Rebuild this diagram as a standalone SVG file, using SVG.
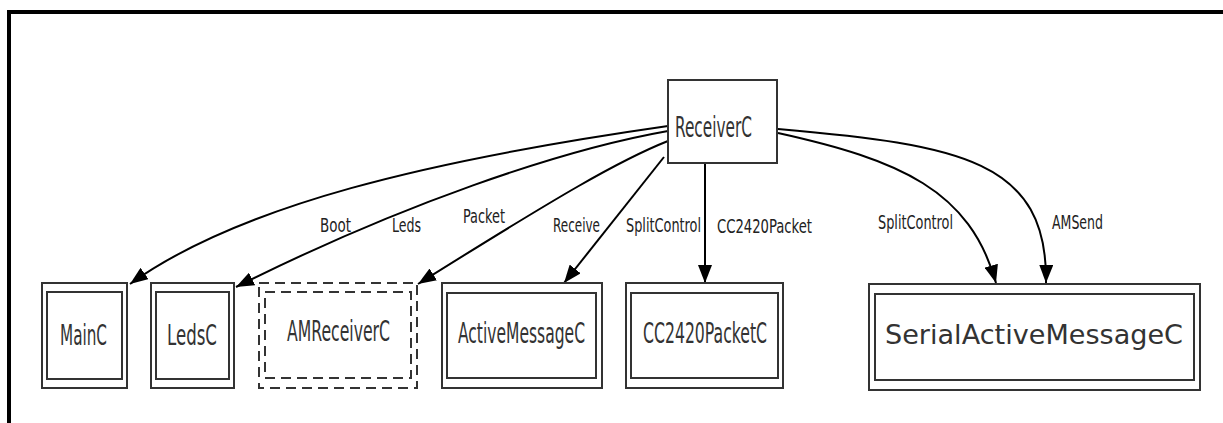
<svg xmlns="http://www.w3.org/2000/svg" width="1223" height="423" viewBox="0 0 1223 423">
<style>
.frame{stroke:#000;stroke-width:4;fill:none}
.box{fill:none;stroke:#333;stroke-width:2}
.dash{fill:none;stroke:#333;stroke-width:2;stroke-dasharray:10 6}
.edge{fill:none;stroke:#000;stroke-width:2}
.nt{font-family:"DejaVu Sans Condensed","DejaVu Sans",sans-serif;font-size:29px;fill:#333}
.lt{font-family:"DejaVu Sans Condensed","DejaVu Sans",sans-serif;font-size:19px;fill:#222}
</style>
<defs>
<marker id="arr" markerUnits="userSpaceOnUse" markerWidth="20" markerHeight="14" refX="18" refY="7" orient="auto">
<path d="M0,0 L18,7 L0,14 Z" fill="#000"/>
</marker>
</defs>
<rect width="1223" height="423" fill="#fff"/>
<path class="frame" d="M9,423 L9,12 L1223,12"/>
<g id="connectors">
<path class="edge" marker-end="url(#arr)" d="M668,126 C430,160 240,205 130,284"/>
<path class="edge" marker-end="url(#arr)" d="M668,131 C560,150 400,205 236,287"/>
<path class="edge" marker-end="url(#arr)" d="M668,141 C620,160 560,195 418,284"/>
<path class="edge" marker-end="url(#arr)" d="M664,157 L564,283"/>
<path class="edge" marker-end="url(#arr)" d="M705,163 L705,283"/>
<path class="edge" marker-end="url(#arr)" d="M778,133 C900,160 970,190 996,283"/>
<path class="edge" marker-end="url(#arr)" d="M778,129 C960,145 1048,160 1046,283"/>
<text class="lt" transform="translate(320,232) scale(0.75,1)" textLength="41.3" lengthAdjust="spacingAndGlyphs">Boot</text>
<text class="lt" transform="translate(392,232) scale(0.75,1)" textLength="38.7" lengthAdjust="spacingAndGlyphs">Leds</text>
<text class="lt" transform="translate(463,223) scale(0.75,1)" textLength="56" lengthAdjust="spacingAndGlyphs">Packet</text>
<text class="lt" transform="translate(553,232) scale(0.75,1)" textLength="62.7" lengthAdjust="spacingAndGlyphs">Receive</text>
<text class="lt" transform="translate(626,232) scale(0.75,1)" textLength="100" lengthAdjust="spacingAndGlyphs">SplitControl</text>
<text class="lt" transform="translate(717,233) scale(0.75,1)" textLength="126.7" lengthAdjust="spacingAndGlyphs">CC2420Packet</text>
<text class="lt" transform="translate(878,229) scale(0.75,1)" textLength="100" lengthAdjust="spacingAndGlyphs">SplitControl</text>
<text class="lt" transform="translate(1052,229) scale(0.75,1)" textLength="68" lengthAdjust="spacingAndGlyphs">AMSend</text>
</g>
<g id="ReceiverC">
<rect class="box" x="668" y="80" width="109" height="83"/>
<text class="nt" font-size="28" transform="translate(675,137) scale(0.6,1)" textLength="128.3" lengthAdjust="spacingAndGlyphs">ReceiverC</text>
</g>
<g id="MainC">
<rect class="box" x="42" y="283" width="85" height="105"/>
<rect class="box" x="47" y="292" width="75" height="87"/>
<text class="nt" transform="translate(60,345) scale(0.6,1)" textLength="78.3" lengthAdjust="spacingAndGlyphs">MainC</text>
</g>
<g id="LedsC">
<rect class="box" x="151" y="283" width="83" height="105"/>
<rect class="box" x="156" y="292" width="73" height="87"/>
<text class="nt" transform="translate(167,345) scale(0.6,1)" textLength="83.3" lengthAdjust="spacingAndGlyphs">LedsC</text>
</g>
<g id="AMReceiverC">
<rect class="dash" x="259" y="283" width="158" height="105"/>
<rect class="dash" x="265" y="292" width="146" height="86"/>
<text class="nt" font-size="26" transform="translate(287,341) scale(0.6,1)" textLength="171.7" lengthAdjust="spacingAndGlyphs">AMReceiverC</text>
</g>
<g id="ActiveMessageC">
<rect class="box" x="442" y="283" width="160" height="105"/>
<rect class="box" x="447" y="293" width="149" height="85"/>
<text class="nt" transform="translate(458,343) scale(0.6,1)" textLength="211.7" lengthAdjust="spacingAndGlyphs">ActiveMessageC</text>
</g>
<g id="CC2420PacketC">
<rect class="box" x="626" y="283" width="157" height="105"/>
<rect class="box" x="631" y="293" width="147" height="85"/>
<text class="nt" transform="translate(643,343) scale(0.6,1)" textLength="206.7" lengthAdjust="spacingAndGlyphs">CC2420PacketC</text>
</g>
<g id="SerialActiveMessageC">
<rect class="box" x="869" y="284" width="331" height="106"/>
<rect class="box" x="875" y="294" width="319" height="86"/>
<text x="885" y="344" font-family="DejaVu Sans, sans-serif" font-size="27" fill="#333" textLength="298" lengthAdjust="spacingAndGlyphs">SerialActiveMessageC</text>
</g>
</svg>
